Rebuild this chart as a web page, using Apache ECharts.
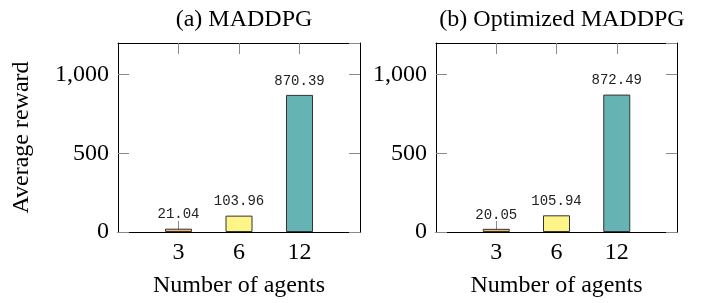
<!DOCTYPE html>
<html>
<head>
<meta charset="utf-8">
<script src="https://cdn.jsdelivr.net/npm/echarts@6/dist/echarts.min.js"></script>
<style>
  html, body { margin: 0; padding: 0; background: #fff; }
  #chart { width: 701px; height: 303px; }
</style>
</head>
<body>
<div id="chart"></div>
<script>
// data
const agents = ['3', '6', '12'];
const rewardMaddpg = [21.04, 103.96, 870.39];
const rewardOptimized = [20.05, 105.94, 872.49];
const barColors = ['#ffb46a', '#fff487', '#66b3b3'];
const panelTitles = ['(a) MADDPG', '(b) Optimized MADDPG'];

const serif = 'Liberation Serif';
const mono = 'Liberation Mono';
const fs = 24;

// pad categories so the bars sit at 1,2,3 of 0..4 (like pgfplots enlarge x limits)
const xCats = [''].concat(agents, ['']);
const padded = (vals) => [null].concat(vals.map((v, i) => ({
  value: v,
  itemStyle: { color: barColors[i] }
})), [null]);

const grids = [
  { left: 118, right: 341, top: 43, bottom: 69 },
  { left: 436, right: 24, top: 43, bottom: 69 }
];

const tickStyle = { show: true, inside: true, length: 11, lineStyle: { color: '#8a8a8a', width: 1 } };
const frameLine = { show: true, onZero: false, lineStyle: { color: '#000', width: 1 } };

const xAxes = [];
const yAxes = [];
grids.forEach((g, gi) => {
  // bottom
  xAxes.push({
    type: 'category', gridIndex: gi, data: xCats, boundaryGap: false, position: 'bottom',
    axisLine: frameLine,
    axisTick: Object.assign({}, tickStyle, { interval: (i) => i > 0 && i < xCats.length - 1 }),
    axisLabel: { fontFamily: serif, fontSize: fs, color: '#000', margin: 9 },
    name: 'Number of agents', nameLocation: 'middle', nameGap: 42,
    nameTextStyle: { fontFamily: serif, fontSize: fs, color: '#000' }
  });
  // top (mirror ticks)
  xAxes.push({
    type: 'category', gridIndex: gi, data: xCats, boundaryGap: false, position: 'top',
    axisLine: frameLine,
    axisTick: Object.assign({}, tickStyle, { interval: (i) => i > 0 && i < xCats.length - 1 }),
    axisLabel: { show: false }
  });
  yAxes.push({
    type: 'value', gridIndex: gi, min: 0, max: 1200, interval: 500, position: 'left',
    axisLine: frameLine, axisTick: tickStyle, splitLine: { show: false },
    axisLabel: {
      fontFamily: serif, fontSize: fs, color: '#000', margin: 9, showMaxLabel: false,
      formatter: (v) => v.toLocaleString('en-US')
    },
    name: gi === 0 ? 'Average reward' : '', nameLocation: 'middle', nameGap: 84,
    nameTextStyle: { fontFamily: serif, fontSize: fs, color: '#000' }
  });
  yAxes.push({
    type: 'value', gridIndex: gi, min: 0, max: 1200, interval: 500, position: 'right',
    axisLine: frameLine, axisTick: tickStyle, splitLine: { show: false },
    axisLabel: { show: false }
  });
});

const makeSeries = (vals, gi) => ({
  type: 'bar', xAxisIndex: gi * 2, yAxisIndex: gi * 2,
  data: padded(vals), barWidth: 27,
  itemStyle: { borderColor: '#333', borderWidth: 1 },
  label: {
    show: true, position: 'top', distance: 7,
    fontFamily: mono, fontSize: 14, color: '#222',
    formatter: (p) => p.value.toFixed(2)
  }
});

const chart = echarts.init(document.getElementById('chart'), null, { renderer: 'canvas' });
chart.setOption({
  animation: false,
  backgroundColor: '#fff',
  title: panelTitles.map((t, i) => ({
    text: t,
    left: i === 0 ? 239 : 557, top: 3, textAlign: 'center',
    textStyle: { fontFamily: serif, fontSize: fs, fontWeight: 'normal', color: '#000' }
  })),
  grid: grids,
  xAxis: xAxes,
  yAxis: yAxes,
  series: [makeSeries(rewardMaddpg, 0), makeSeries(rewardOptimized, 1)]
});
</script>
</body>
</html>
